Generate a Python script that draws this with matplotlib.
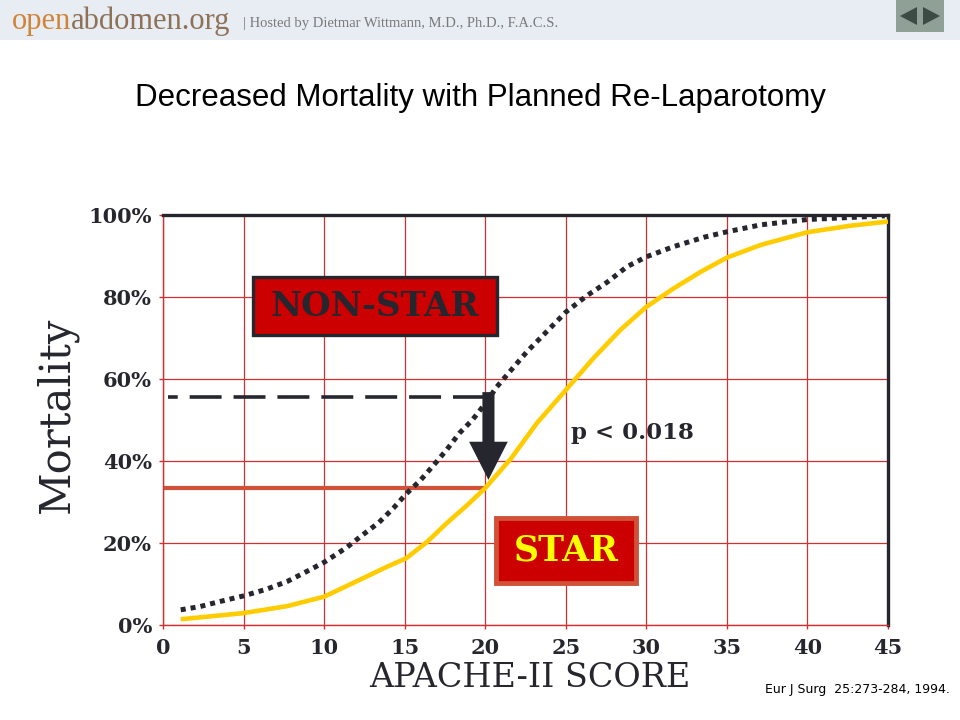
import matplotlib
matplotlib.use("Agg")
import matplotlib.pyplot as plt
from matplotlib.patches import Rectangle, FancyArrow, Polygon

# APACHE-II score vs mortality (%)
score_nonstar = [1.1, 2.3, 3.5, 5, 6.4, 7.7, 8.7, 10, 11.4, 12.4, 13.4, 14.3, 15.1, 16, 16.8,
                 17.6, 18.4, 19.2, 20, 20.7, 21.7, 22.6, 23.6, 25, 26.3, 27.6, 28.8, 30,
                 31.7, 33.6, 35, 37.1, 40, 44.8]
mort_nonstar = [3.7, 4.5, 5.7, 7.1, 8.7, 10.6, 12.6, 15.3, 18.9, 22, 25, 28.5, 32, 35.4, 39,
                42.7, 46.8, 50, 54, 58, 62.6, 66.7, 70.7, 76.3, 80.3, 83.7, 87.4, 89.8,
                92.3, 94.6, 95.9, 97.6, 98.9, 99.8]

score_star = [1.1, 5, 7.7, 10, 12.2, 13.9, 15.1, 16.4, 17.6, 18.9, 20, 21.6, 23.2, 25,
              26.7, 28.4, 30, 31.7, 33.4, 35, 37.1, 40, 42.7, 45]
mort_star = [1.4, 2.9, 4.6, 6.9, 11, 14.2, 16.3, 20.3, 24.8, 29.3, 33.4, 40.6, 49.2, 57.3,
             65, 72, 77.6, 82.1, 86.2, 89.6, 92.7, 95.8, 97.4, 98.4]

cutoff_score = 20
nonstar_at_cutoff = 55.5
star_at_cutoff = 33.5

x_ticks = [0, 5, 10, 15, 20, 25, 30, 35, 40, 45]
y_ticks = [0, 20, 40, 60, 80, 100]
y_ticklabels = ["0%", "20%", "40%", "60%", "80%", "100%"]

GRID_RED = "#D03030"
DARK = "#26262F"
YELLOW = "#FFCC00"
RUST = "#D05038"
BOX_RED = "#CC0000"

plt.rcParams["lines.scale_dashes"] = False

fig = plt.figure(figsize=(9.6, 7.2), dpi=100)
fig.patch.set_facecolor("white")

# header band
fig.patches.append(Rectangle((0, 1 - 40 / 720), 1, 40 / 720, transform=fig.transFigure,
                             facecolor="#E8ECF3", edgecolor="none", zorder=0))
fig.text(12 / 960, 1 - 29 / 720, "open", family="Liberation Serif", fontsize=22,
         color="#D0843A", ha="left", va="baseline")
fig.text(71 / 960, 1 - 29 / 720, "abdomen.org", family="Liberation Serif", fontsize=22,
         color="#8E7258", ha="left", va="baseline")
fig.text(243 / 960, 1 - 27 / 720, "| Hosted by Dietmar Wittmann, M.D., Ph.D., F.A.C.S.",
         family="Liberation Serif", fontsize=10.5, color="#7A7A7A", ha="left", va="baseline")
# nav buttons
fig.patches.append(Rectangle((896 / 960, 1 - 32 / 720), 48 / 960, 32 / 720,
                             transform=fig.transFigure, facecolor="#8FA096",
                             edgecolor="none"))
fig.patches.append(Polygon([(900 / 960, 1 - 16 / 720), (917 / 960, 1 - 7 / 720),
                            (917 / 960, 1 - 25 / 720)], closed=True,
                           transform=fig.transFigure, facecolor="#3D4B45", edgecolor="none"))
fig.patches.append(Polygon([(940 / 960, 1 - 16 / 720), (923 / 960, 1 - 7 / 720),
                            (923 / 960, 1 - 25 / 720)], closed=True,
                           transform=fig.transFigure, facecolor="#3D4B45", edgecolor="none"))

fig.text(0.5, 1 - 98 / 720, "Decreased Mortality with Planned Re-Laparotomy",
         family="Liberation Sans", fontsize=22.5, color="black", ha="center", va="center")

ax = fig.add_axes([163 / 960, 95 / 720, 725 / 960, 410 / 720])
ax.set_xlim(0, 45)
ax.set_ylim(0, 100)
ax.set_xticks(x_ticks)
ax.set_yticks(y_ticks)
ax.set_yticklabels(y_ticklabels)
ax.grid(True, color=GRID_RED, linewidth=0.9, zorder=0)
ax.set_axisbelow(True)
for lab in ax.get_xticklabels() + ax.get_yticklabels():
    lab.set_family("DejaVu Serif")
    lab.set_fontweight("bold")
    lab.set_fontsize(15)
    lab.set_color(DARK)
ax.tick_params(axis="both", color=GRID_RED, length=3, width=1)
ax.tick_params(axis="x", pad=6)
ax.tick_params(axis="y", pad=5)
for side in ["left", "bottom"]:
    ax.spines[side].set_color(GRID_RED)
    ax.spines[side].set_linewidth(1)
for side in ["top", "right"]:
    ax.spines[side].set_color(DARK)
    ax.spines[side].set_linewidth(2.4)

# reference lines at the cutoff score
ax.hlines(star_at_cutoff, 0, cutoff_score, color=RUST, linewidth=3, zorder=2)
dash_line = ax.hlines(nonstar_at_cutoff, 0.3, cutoff_score, color=DARK, linewidth=2.6, zorder=2)
dash_line.set_linestyle((16, (23, 8.6)))

ax.plot(score_nonstar, mort_nonstar, color=DARK, linewidth=3.6, linestyle=(0, (3.6, 3.6)),
        zorder=3)
ax.plot(score_star, mort_star, color=YELLOW, linewidth=3.3, solid_capstyle="butt",
        solid_joinstyle="round", zorder=3)

ax.add_patch(FancyArrow(cutoff_score + 0.2, nonstar_at_cutoff + 1.3, 0,
                        star_at_cutoff + 1.9 - (nonstar_at_cutoff + 1.3), width=0.75,
                        head_width=2.4, head_length=9.3, length_includes_head=True,
                        facecolor=DARK, edgecolor="none", zorder=4))

# group labels
ax.add_patch(Rectangle((5.6, 70.7), 15.1, 14.2, facecolor=BOX_RED, edgecolor=DARK,
                       linewidth=2.4, zorder=5))
ax.text(13.15, 77.8, "NON-STAR", family="DejaVu Serif", fontweight="bold", fontsize=24.5,
        color=DARK, ha="center", va="center", zorder=6)
ax.add_patch(Rectangle((20.65, 10.3), 8.7, 15.7, facecolor=BOX_RED, edgecolor=RUST,
                       linewidth=3.5, zorder=5))
ax.text(25.0, 18.2, "STAR", family="DejaVu Serif", fontweight="bold", fontsize=25,
        color="#FFFF00", ha="center", va="center", zorder=6)
ax.text(25.3, 45.4, "p < 0.018", family="DejaVu Serif", fontweight="bold", fontsize=16.5,
        color=DARK, ha="left", va="baseline", zorder=6)

fig.text(57 / 960, 1 - 415 / 720, "Mortality", family="DejaVu Serif", fontsize=30,
         color=DARK, rotation=90, ha="center", va="center")
fig.text(530 / 960, 1 - 678 / 720, "APACHE-II SCORE", family="DejaVu Serif", fontsize=24,
         color=DARK, ha="center", va="center")
fig.text(950 / 960, 1 - 690 / 720, "Eur J Surg  25:273-284, 1994.", family="DejaVu Sans",
         fontsize=9, color="black", ha="right", va="center")

fig.savefig("out.png", dpi=100)
